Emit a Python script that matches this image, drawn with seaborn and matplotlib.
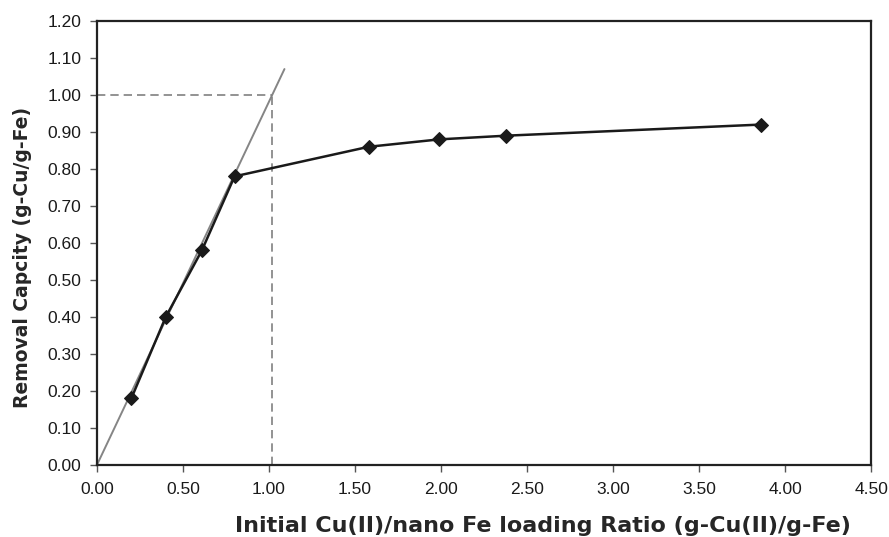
import matplotlib
matplotlib.use("Agg")
import matplotlib.pyplot as plt
import seaborn as sns
import pandas as pd

loading_ratio = [0.20, 0.40, 0.61, 0.80, 1.58, 1.99, 2.38, 3.86]
removal_capacity = [0.18, 0.40, 0.58, 0.78, 0.86, 0.88, 0.89, 0.92]
trend_x = [0.0, 1.09]
trend_y = [0.0, 1.07]
ref_x = 1.02
ref_y = 1.00

sns.set_style("white")
plt.rcParams['font.family'] = ['Liberation Sans', 'DejaVu Sans']

fig = plt.figure(figsize=(8.89, 5.37), dpi=100)
ax = fig.add_axes([0.109, 0.134, 0.871, 0.827])

df = pd.DataFrame({"x": loading_ratio, "y": removal_capacity})
sns.lineplot(data=pd.DataFrame({"x": trend_x, "y": trend_y}), x="x", y="y",
             ax=ax, color="#858585", linewidth=1.4, zorder=2)
sns.lineplot(data=df, x="x", y="y", ax=ax, color="#1a1a1a", linewidth=1.8,
             marker="D", markersize=7, markeredgecolor="#1a1a1a", zorder=3)
ax.plot([0, ref_x], [ref_y, ref_y], linestyle=(0, (5, 3)), color="#808080", linewidth=1.2)
ax.plot([ref_x, ref_x], [0, ref_y], linestyle=(0, (5, 3)), color="#808080", linewidth=1.2)

ax.set_xlim(0, 4.5)
ax.set_ylim(0, 1.2)
ax.set_xticks([i * 0.5 for i in range(10)])
ax.set_yticks([i * 0.1 for i in range(13)])
ax.set_xticklabels([f"{i*0.5:.2f}" for i in range(10)])
ax.set_yticklabels([f"{i*0.1:.2f}" for i in range(13)])
ax.tick_params(axis="both", labelsize=12.5, length=5, width=1, direction="out",
               bottom=True, left=True, color="#555555", labelcolor="#1a1a1a")
ax.tick_params(axis="x", pad=7)
ax.tick_params(axis="y", pad=6)
for s in ax.spines.values():
    s.set_color("#222222")
    s.set_linewidth(1.6)

ax.set_xlabel("Initial Cu(II)/nano Fe loading Ratio (g-Cu(II)/g-Fe)", fontsize=16,
              fontweight="bold", family=["DejaVu Sans"])
ax.set_ylabel("Removal Capcity (g-Cu/g-Fe)", fontsize=13.5, fontweight="bold",
              family=["DejaVu Sans"])
ax.xaxis.set_label_coords(0.576, -0.114)
ax.yaxis.set_label_coords(-0.084, 0.467)

fig.savefig("out.png", dpi=100)
